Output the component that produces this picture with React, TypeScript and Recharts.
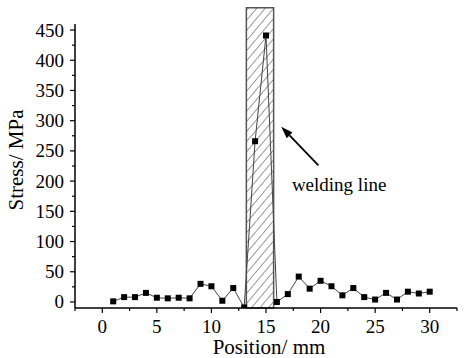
import { Line, LineChart, XAxis, YAxis, ReferenceArea, ReferenceLine, ReferenceDot, Label } from "recharts"

// measured positions (mm) and residual stress (MPa)
const positions = [1, 2, 3, 4, 5, 6, 7, 8, 9, 10, 11, 12, 13, 14, 15, 16, 17, 18, 19, 20, 21, 22, 23, 24, 25, 26, 27, 28, 29, 30]
const stresses = [1, 8, 8, 15, 7, 6, 7, 6, 30, 26, 2, 23, -9, 266, 441, 0, 13, 42, 22, 35, 26, 11, 23, 8, 4, 15, 4, 17, 14, 17]

const xTicks = [-2.5, 0, 2.5, 5, 7.5, 10, 12.5, 15, 17.5, 20, 22.5, 25, 27.5, 30, 32.5]
const yTicks = [0, 25, 50, 75, 100, 125, 150, 175, 200, 225, 250, 275, 300, 325, 350, 375, 400, 425, 450]

// welding zone and annotation
const weldZone = [13.2, 15.7]
const arrowFrom = { x: 19.8, y: 226 }
const arrowTo = { x: 16.4, y: 290 }
const weldLabel = { x: 21.7, y: 195, text: "welding line" }

const data = positions.map((p, i) => ({ pos: p, stress: stresses[i] }))

const FONT = "'Liberation Serif', 'Times New Roman', serif"

const XTick = (props: any) => {
    const { x, y, payload } = props
    const major = payload.value % 5 === 0
    return (
        <g>
            <line x1={x} y1={y} x2={x} y2={y + (major ? 5 : 3)} stroke="#000" strokeWidth={1.2} />
            {major && (
                <text x={x} y={y + 25} textAnchor="middle" fontSize={19} style={{ fontFamily: FONT }} fill="#000">
                    {payload.value}
                </text>
            )}
        </g>
    )
}

const YTick = (props: any) => {
    const { x, y, payload } = props
    const major = payload.value % 50 === 0
    return (
        <g>
            <line x1={x} y1={y} x2={x - (major ? 5 : 3)} y2={y} stroke="#000" strokeWidth={1.2} />
            {major && (
                <text x={x - 11} y={y} textAnchor="end" dominantBaseline="central" fontSize={19} style={{ fontFamily: FONT }} fill="#000">
                    {payload.value}
                </text>
            )}
        </g>
    )
}

const SquareDot = (props: any) => {
    const { cx, cy } = props
    if (cx == null || cy == null) return null
    return <rect x={cx - 3} y={cy - 3} width={6} height={6} fill="#000" />
}

const Arrow = (props: any) => {
    const { x1, y1, x2, y2 } = props
    const ang = Math.atan2(y2 - y1, x2 - x1)
    const len = 12
    const w = 4
    const bx = x2 - len * Math.cos(ang)
    const by = y2 - len * Math.sin(ang)
    const px = -Math.sin(ang) * w
    const py = Math.cos(ang) * w
    return (
        <g>
            <line x1={x1} y1={y1} x2={bx} y2={by} stroke="#000" strokeWidth={1.8} />
            <polygon points={`${x2},${y2} ${bx + px},${by + py} ${bx - px},${by - py}`} fill="#000" />
        </g>
    )
}

export default function App() {
    return (
        <div style={{ position: "absolute", left: 0, top: 0, background: "#fff" }}>
            <LineChart width={465} height={358} data={data} margin={{ top: 24, right: 8, left: 0, bottom: 0 }}>
                <defs>
                    <pattern id="hatch" width="6.5" height="6.5" patternUnits="userSpaceOnUse" patternTransform="rotate(40)">
                        <line x1="0" y1="0" x2="0" y2="6.5" stroke="#333" strokeWidth="1" />
                    </pattern>
                </defs>
                <XAxis
                    dataKey="pos"
                    type="number"
                    domain={[-2.5, 32.5]}
                    allowDataOverflow
                    ticks={xTicks}
                    interval={0}
                    tickSize={0}
                    tickMargin={0}
                    tickLine={false}
                    tick={<XTick />}
                    height={50}
                    axisLine={{ stroke: "#000", strokeWidth: 1.5 }}
                >
                    <Label
                        content={() => (
                            <text x={269} y={354} textAnchor="middle" fontSize={21} style={{ fontFamily: FONT }} fill="#000">
                                Position/ mm
                            </text>
                        )}
                    />
                </XAxis>
                <YAxis
                    type="number"
                    domain={[-10, 460]}
                    allowDataOverflow
                    ticks={yTicks}
                    interval={0}
                    tickSize={0}
                    tickMargin={0}
                    tickLine={false}
                    tick={<YTick />}
                    width={75}
                    axisLine={{ stroke: "#000", strokeWidth: 1.5 }}
                >
                    <Label
                        content={(p: any) => {
                            const cy = p.viewBox.y + p.viewBox.height / 2 - 6
                            return (
                                <text
                                    x={23}
                                    y={cy}
                                    transform={`rotate(-90, 23, ${cy})`}
                                    textAnchor="middle"
                                    fontSize={21}
                                    style={{ fontFamily: FONT }}
                                    fill="#000"
                                >
                                    Stress/ MPa
                                </text>
                            )
                        }}
                    />
                </YAxis>
                <ReferenceArea
                    x1={weldZone[0]}
                    x2={weldZone[1]}
                    y1={-10}
                    y2={487}
                    ifOverflow="visible"
                    fill="url(#hatch)"
                    fillOpacity={1}
                    stroke="#555"
                    strokeWidth={1.5}
                />
                <ReferenceLine segment={[arrowFrom, arrowTo]} ifOverflow="visible" shape={<Arrow />} />
                <ReferenceDot
                    x={weldLabel.x}
                    y={weldLabel.y}
                    r={0}
                    fill="none"
                    stroke="none"
                    label={{ value: weldLabel.text, position: "center", fontSize: 19, fontFamily: FONT, fill: "#000" }}
                />
                <Line
                    type="linear"
                    dataKey="stress"
                    stroke="#444"
                    strokeWidth={1}
                    dot={<SquareDot />}
                    activeDot={false}
                    isAnimationActive={false}
                />
            </LineChart>
        </div>
    )
}
